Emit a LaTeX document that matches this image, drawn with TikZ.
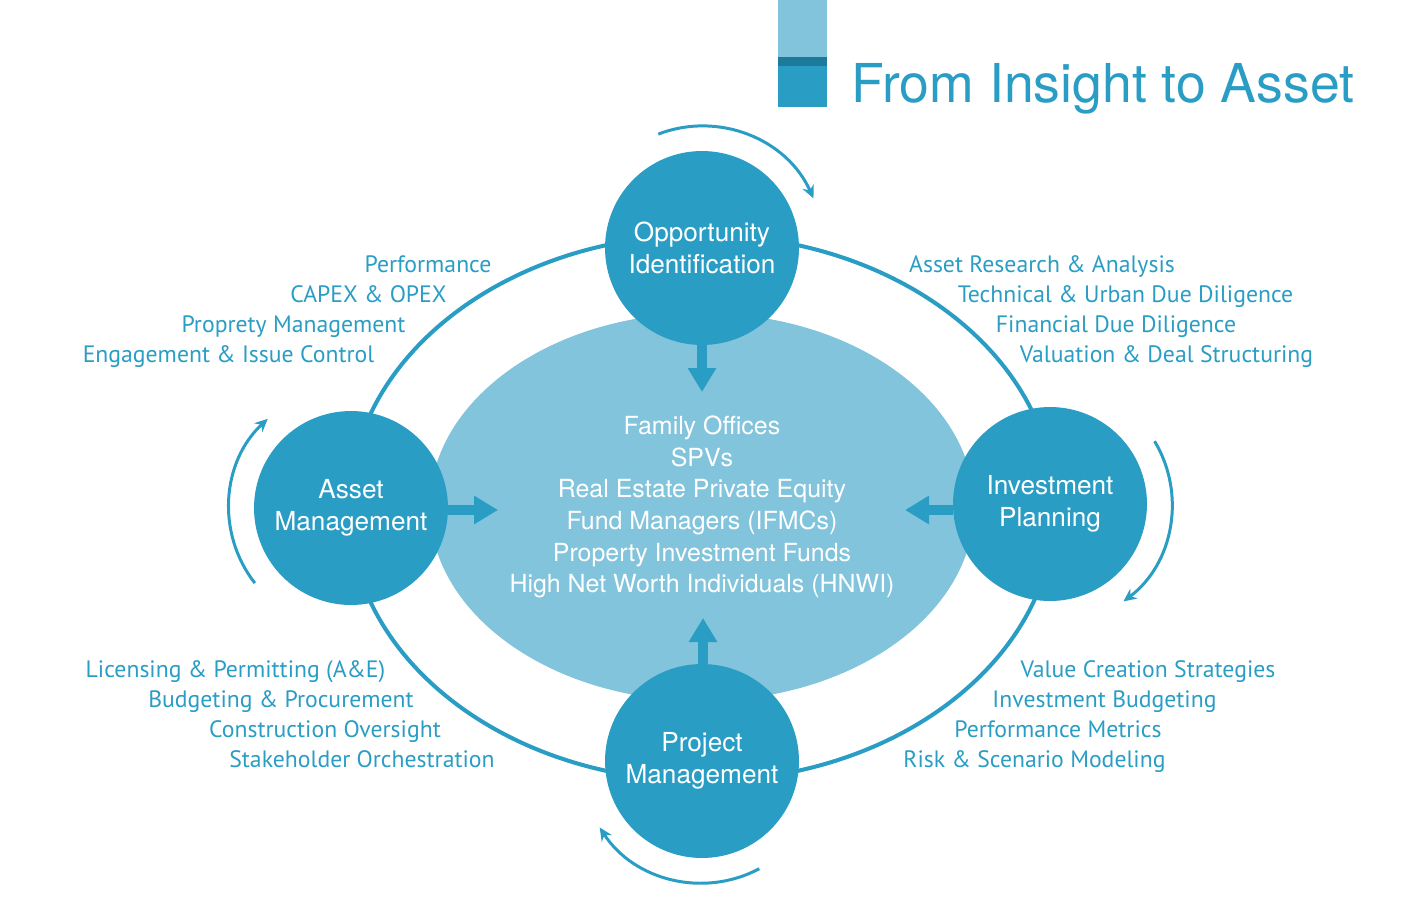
\documentclass[tikz,border=0pt]{standalone}
\usepackage{fontspec}
\setmainfont{TeX Gyre Heros}
\newfontfamily\listfont{PT Sans}
\usetikzlibrary{positioning, shapes.geometric, arrows.meta}
\definecolor{insightBlue}{HTML}{2A9DC4}
\definecolor{insightLight}{HTML}{82C4DB}
\definecolor{insightDark}{HTML}{1E7A9A}

\begin{document}
\begin{tikzpicture}[x=0.02cm, y=0.02cm,
  hub/.style={circle, fill=insightBlue, text=white, minimum size=3.88cm,
    inner sep=0pt, align=center, font=\fontsize{14.9}{18}\selectfont},
  pool/.style={ellipse, fill=insightLight, text=white, minimum width=10.8cm,
    minimum height=7.76cm, inner sep=0pt, align=center, font=\fontsize{14.2}{18}\selectfont},
  task/.style={anchor=base, text=insightBlue, inner sep=0pt, font=\listfont\fontsize{13.5}{15}\selectfont},
  feed/.style={insightBlue, line width=0.2cm, -{Triangle[length=0.48cm, width=0.54cm]}},
  turn/.style={insightBlue, line width=1.7pt, -{Stealth[length=2.6mm, width=2.4mm]}}]

\useasboundingbox (0,0) rectangle (1413,-900);

% title bar
\fill[insightLight] (778,0) rectangle (827,-57);
\fill[insightDark] (778,-57) rectangle (827,-66);
\fill[insightBlue] (778,-66) rectangle (827,-107);
\node[anchor=base west, inner sep=0pt, text=insightBlue,
      font=\fontsize{30.5}{36}\selectfont] (title) at (851,-102) {From Insight to Asset};

% cycle ring
\draw[insightBlue, line width=2.3pt] (702,-508) ellipse [x radius=353, y radius=273];

\node[pool] (pool) at (702,-507)
  {Family Offices\\SPVs\\Real Estate Private Equity\\Fund Managers (IFMCs)\\
   Property Investment Funds\\High Net Worth Individuals (HNWI)};

\node[hub] (opp) at (702,-248) {Opportunity\\Identification};
\node[hub] (inv) at (1050,-504) {Investment\\Planning};
\node[hub] (proj) at (702,-761) {Project\\Management};
\node[hub] (asset) at (351,-508) {Asset\\Management};

% feeds into the pool
\coordinate (oppTip) at (702,-392);
\coordinate (invTip) at (905,-510);
\coordinate (projTip) at (703,-618);
\coordinate (assetTip) at (498,-510);
\draw[feed] (opp) -- (oppTip);
\draw[feed] (inv.west |- invTip) -- (invTip);
\draw[feed] (proj.north -| projTip) -- (projTip);
\draw[feed] (asset.east |- assetTip) -- (assetTip);

% clockwise turns
\draw[turn] ([shift={(111:122)}]opp.center) arc[start angle=111, end angle=24, radius=122];
\draw[turn] ([shift={(31:122)}]inv.center) arc[start angle=31, end angle=-53, radius=122];
\draw[turn] ([shift={(-62:122)}]proj.center) arc[start angle=-62, end angle=-147, radius=122];
\draw[turn] ([shift={(218:122)}]asset.center) arc[start angle=218, end angle=133, radius=122];

% asset management tasks
\node[task] (am1) at (428,-272) {Performance};
\node[task] (am2) at (368.5,-302) {CAPEX \& OPEX};
\node[task] (am3) at (293.5,-332) {Proprety Management};
\node[task] (am4) at (228.5,-362) {Engagement \& Issue Control};

% opportunity tasks
\node[task] (op1) at (1042,-272) {Asset Research \& Analysis};
\node[task] (op2) at (1125.5,-302) {Technical \& Urban Due Diligence};
\node[task] (op3) at (1116,-332) {Financial Due Diligence};
\node[task] (op4) at (1166.5,-362) {Valuation \& Deal Structuring};

% project tasks
\node[task] (pm1) at (235.5,-677) {Licensing \& Permitting (A\&E)};
\node[task] (pm2) at (281,-707) {Budgeting \& Procurement};
\node[task] (pm3) at (325,-737) {Construction Oversight};
\node[task] (pm4) at (362,-767) {Stakeholder Orchestration};

% investment tasks
\node[task] (ip1) at (1148,-677) {Value Creation Strategies};
\node[task] (ip2) at (1104.5,-707) {Investment Budgeting};
\node[task] (ip3) at (1058,-737) {Performance Metrics};
\node[task] (ip4) at (1034.5,-767) {Risk \& Scenario Modeling};

\end{tikzpicture}
\end{document}
